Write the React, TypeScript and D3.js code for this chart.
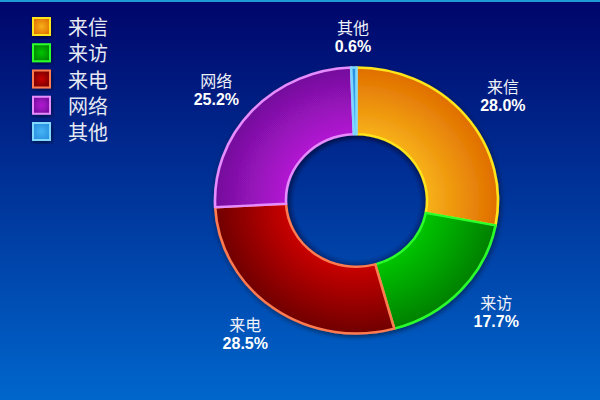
import React from "react";
import * as d3 from "d3";

const categories = ["来信", "来访", "来电", "网络", "其他"];
const values = [28.0, 17.7, 28.5, 25.2, 0.6];
const percentLabels = ["28.0%", "17.7%", "28.5%", "25.2%", "0.6%"];
const lightColors = ["#f7b018", "#00c400", "#c80000", "#b214d2", "#44b4f4"];
const darkColors = ["#e06e00", "#008000", "#700000", "#74109c", "#2a8ee0"];
const strokeColors = ["#ffe41a", "#2cff2c", "#ff7a50", "#e68cff", "#80d8ff"];

const W = 600;
const H = 400;
const CX = 356.5;
const CY = 200.5;
const R_OUT = 141.5;
const R_IN = 70.5;
const YS = 0.94;
const LABEL_RX = 190;
const LABEL_RY = 164;

export default function App() {
  const pie = d3
    .pie<number>()
    .value((d) => d)
    .sort(null)
    .startAngle(0)
    .endAngle(2 * Math.PI);
  const arcs = pie(values);
  const arcGen = d3.arc<d3.PieArcDatum<number>>().innerRadius(R_IN).outerRadius(R_OUT);

  const legendY = d3.scaleLinear().domain([0, 4]).range([26.5, 131.5]);

  return (
    <svg
      width={W}
      height={H}
      style={{ position: "absolute", left: 0, top: 0, display: "block" }}
    >
      <defs>
        <linearGradient id="bg" x1="0" y1="0" x2="0" y2="1">
          <stop offset="0" stopColor="#00056a" />
          <stop offset="1" stopColor="#0066cc" />
        </linearGradient>
        {categories.map((c, i) => (
          <radialGradient
            key={c}
            id={`sg${i}`}
            gradientUnits="userSpaceOnUse"
            cx={0}
            cy={0}
            r={R_OUT}
          >
            <stop offset="0.5" stopColor={lightColors[i]} />
            <stop offset="1" stopColor={darkColors[i]} />
          </radialGradient>
        ))}
        {categories.map((c, i) => (
          <radialGradient key={c + "l"} id={`lg${i}`} cx="0.5" cy="0.5" r="0.6">
            <stop offset="0" stopColor={lightColors[i]} />
            <stop offset="1" stopColor={darkColors[i]} />
          </radialGradient>
        ))}
        <radialGradient id="hole" gradientUnits="userSpaceOnUse" cx={0} cy={0} r={R_IN}>
          <stop offset="0.88" stopColor="#000030" stopOpacity="0" />
          <stop offset="1" stopColor="#000030" stopOpacity="0.35" />
        </radialGradient>
        <filter id="shadow" x="-20%" y="-20%" width="140%" height="140%">
          <feGaussianBlur in="SourceAlpha" stdDeviation="3" />
          <feOffset dx="1" dy="2" result="b" />
          <feComponentTransfer>
            <feFuncA type="linear" slope="0.5" />
          </feComponentTransfer>
          <feMerge>
            <feMergeNode />
            <feMergeNode in="SourceGraphic" />
          </feMerge>
        </filter>
      </defs>
      <rect x={0} y={0} width={W} height={H} fill="url(#bg)" />
      <rect x={0} y={0} width={W} height={2} fill="#1e9ad6" />

      {/* Legend */}
      {categories.map((c, i) => (
        <g key={c} transform={`translate(0,${legendY(i)})`}>
          <rect
            x={33}
            y={-8.5}
            width={17}
            height={17}
            fill={`url(#lg${i})`}
            stroke={strokeColors[i]}
            strokeWidth={2}
            filter="url(#shadow)"
          />
          <text
            x={68}
            y={0}
            dominantBaseline="central"
            fontFamily="'Noto Sans CJK SC', sans-serif"
            fontSize={20}
            fill="#e6e8f2"
          >
            {c}
          </text>
        </g>
      ))}

      {/* Donut */}
      <g transform={`translate(${CX},${CY}) scale(1,${YS})`}>
        <g filter="url(#shadow)">
          {arcs.map((a, i) => (
            <path
              key={categories[i]}
              d={arcGen(a) || ""}
              fill={`url(#sg${i})`}
              stroke={strokeColors[i]}
              strokeWidth={2.6}
              strokeLinejoin="round"
            />
          ))}
        </g>
        <circle r={R_IN - 1.3} fill="url(#hole)" />
      </g>

      {/* Labels */}
      {arcs.map((a, i) => {
        const mid = (a.startAngle + a.endAngle) / 2;
        const x = CX + Math.sin(mid) * LABEL_RX;
        const y = CY - Math.cos(mid) * LABEL_RY;
        return (
          <g key={categories[i] + "t"}>
            <text
              x={x}
              y={y - 2.5}
              textAnchor="middle"
              fontFamily="'Liberation Sans', 'Noto Sans CJK SC', sans-serif"
              fontSize={16}
              fill="#eef0f8"
            >
              {categories[i]}
            </text>
            <text
              x={x}
              y={y + 15.5}
              textAnchor="middle"
              fontFamily="'Liberation Sans', Arial, sans-serif"
              fontWeight="bold"
              fontSize={16}
              fill="#ffffff"
            >
              {percentLabels[i]}
            </text>
          </g>
        );
      })}
    </svg>
  );
}
